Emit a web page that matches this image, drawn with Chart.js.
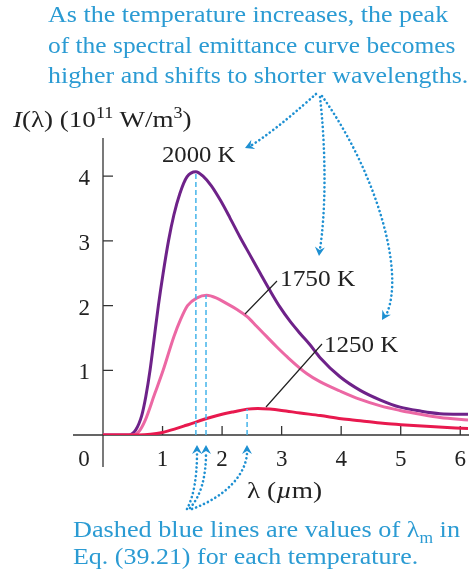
<!DOCTYPE html>
<html>
<head>
<meta charset="utf-8">
<script src="https://cdn.jsdelivr.net/npm/chart.js@4"></script>
<style>
  body { margin: 0; background: #fff; }
  #wrap { position: relative; width: 470px; height: 578px; overflow: hidden; font-family: "Liberation Serif", serif; }
  #wrap canvas { position: absolute; left: 0; top: 0; }
  .t { position: absolute; white-space: nowrap; line-height: 1; font-size: 24px; transform-origin: 0 0; }
  .blue { color: #2b9bd3; }
  .blk { color: #222; }
  sup, sub { font-size: 16px; line-height: 0; }
</style>
</head>
<body>
<div id="wrap">
  <canvas id="c" width="470" height="578"></canvas>
  <!-- data-x: left, data-b: baseline, data-w: width in the reference -->
  <div class="t blue" data-x="48" data-b="21.7" data-w="400">As the temperature increases, the peak</div>
  <div class="t blue" data-x="48" data-b="53" data-w="407">of the spectral emittance curve becomes</div>
  <div class="t blue" data-x="48" data-b="83.3" data-w="420">higher and shifts to shorter wavelengths.</div>
  <div class="t blk" data-x="13" data-b="126.7" data-w="179"><i>I</i>(λ) (10<sup>11</sup> W/m<sup>3</sup>)</div>
  <div class="t blk" data-x="161.5" data-b="161.7" data-w="73">2000 K</div>
  <div class="t blk" data-x="279.5" data-b="286" data-w="75">1750 K</div>
  <div class="t blk" data-x="324" data-b="351.7" data-w="74">1250 K</div>
  <div class="t blk" data-x="247" data-b="498.3" data-w="75">λ (<i>µ</i>m)</div>
  <div class="t blue" data-x="73" data-b="537" data-w="387">Dashed blue lines are values of λ<sub>m</sub> in</div>
  <div class="t blue" data-x="73" data-b="564" data-w="345">Eq. (39.21) for each temperature.</div>
</div>
<script>
// values: wavelength in µm, intensity in 10^11 W/m^3
const lambda2000 = [0, 0.43, 0.55, 0.65, 0.72, 0.79, 0.86, 0.93, 1.01, 1.10, 1.19, 1.29, 1.41, 1.56, 1.68, 1.82, 1.97, 2.13, 2.30, 2.47, 2.64, 2.80, 2.97, 3.14, 3.31, 3.48, 3.65, 3.98, 4.32, 4.66, 4.99, 5.33, 5.66, 6.13];
const I2000 = [0, 0, 0.08, 0.3, 0.6, 1.0, 1.5, 2.0, 2.5, 3.0, 3.4, 3.73, 3.99, 4.07, 4.0, 3.85, 3.63, 3.36, 3.06, 2.78, 2.50, 2.24, 1.98, 1.76, 1.57, 1.39, 1.19, 0.90, 0.69, 0.54, 0.43, 0.37, 0.33, 0.32];

const lambda1750 = [0, 0.5, 0.6, 0.71, 0.87, 1.01, 1.19, 1.30, 1.42, 1.58, 1.74, 1.90, 2.08, 2.25, 2.42, 2.58, 2.75, 2.92, 3.09, 3.42, 3.65, 3.98, 4.32, 4.66, 4.99, 5.33, 5.66, 6.13];
const I1750 = [0, 0, 0.05, 0.23, 0.64, 1.0, 1.52, 1.78, 2.0, 2.12, 2.16, 2.12, 2.03, 1.94, 1.83, 1.68, 1.52, 1.36, 1.21, 0.95, 0.82, 0.68, 0.55, 0.45, 0.38, 0.32, 0.27, 0.23];

const lambda1250 = [0, 0.6, 0.8, 1.0, 1.2, 1.4, 1.56, 1.8, 2.0, 2.2, 2.42, 2.6, 2.8, 3.0, 3.31, 3.65, 4.0, 4.32, 4.7, 5.0, 5.5, 6.13];
const I1250 = [0, 0, 0.01, 0.04, 0.09, 0.15, 0.2, 0.27, 0.32, 0.36, 0.40, 0.41, 0.40, 0.38, 0.34, 0.30, 0.25, 0.22, 0.18, 0.16, 0.13, 0.10];

// peak wavelengths (dashed blue lines) and peak heights, 2000 K, 1750 K, 1250 K
const peakLambda = [1.56, 1.73, 2.42];
const peakI = [4.07, 2.16, 0.40];

const xTicks = [1, 2, 3, 4, 5, 6];
const yTicks = [1, 2, 3, 4];

// put the html labels on their baselines and stretch to the widths seen in the figure
document.querySelectorAll('.t').forEach(el => {
  const fs = 24;
  el.style.left = el.dataset.x + 'px';
  el.style.top = (+el.dataset.b - 0.8375 * fs) + 'px';
  const w = el.offsetWidth;
  el.style.transform = 'scaleX(' + (+el.dataset.w / w) + ')';
});

function pts(xs, ys) {
  return xs.map((x, i) => ({ x: x, y: ys[i] }));
}

const dashedSets = peakLambda.map((x, i) => ({
  data: [{ x: x, y: 0 }, { x: x, y: peakI[i] }],
  borderColor: '#45b4ea',
  borderWidth: 1.5,
  borderDash: [5, 3],
  pointRadius: 0,
  tension: 0
}));

function curve(data, color) {
  return {
    data: data,
    borderColor: color,
    borderWidth: 3,
    pointRadius: 0,
    cubicInterpolationMode: 'monotone'
  };
}

function dotted(ctx, draw) {
  ctx.save();
  ctx.strokeStyle = '#1e90d2';
  ctx.lineWidth = 2.6;
  ctx.lineCap = 'round';
  ctx.setLineDash([0.1, 4.2]);
  ctx.beginPath();
  draw();
  ctx.stroke();
  ctx.restore();
}

function head(ctx, x, y, ang) {
  ctx.save();
  ctx.translate(x, y);
  ctx.rotate(ang);
  ctx.fillStyle = '#1e90d2';
  ctx.beginPath();
  ctx.moveTo(0, 0);
  ctx.lineTo(-9, -5);
  ctx.lineTo(-6, 0);
  ctx.lineTo(-9, 5);
  ctx.closePath();
  ctx.fill();
  ctx.restore();
}

const axesPlugin = {
  id: 'axes',
  beforeDatasetsDraw(chart) {
    const { ctx, scales: { x, y } } = chart;
    const x0 = x.getPixelForValue(0), y0 = y.getPixelForValue(0);
    ctx.save();
    ctx.strokeStyle = '#333';
    ctx.lineWidth = 1.3;
    ctx.beginPath();
    ctx.moveTo(73, y0); ctx.lineTo(469, y0);
    ctx.moveTo(x0, 138); ctx.lineTo(x0, 467);
    xTicks.forEach(v => {
      const px = x.getPixelForValue(v);
      ctx.moveTo(px, y0); ctx.lineTo(px, y0 - 9);
    });
    yTicks.forEach(v => {
      const py = y.getPixelForValue(v);
      ctx.moveTo(x0, py); ctx.lineTo(x0 + 10, py);
    });
    ctx.stroke();
    ctx.fillStyle = '#222';
    ctx.font = '23px "Liberation Serif"';
    ctx.textAlign = 'center';
    ctx.textBaseline = 'alphabetic';
    ctx.fillText('0', 84, y0 + 31);
    xTicks.forEach(v => ctx.fillText(String(v), x.getPixelForValue(v), y0 + 31));
    ctx.textAlign = 'right';
    yTicks.forEach(v => ctx.fillText(String(v), 90, y.getPixelForValue(v) + 9));
    ctx.restore();
  },
  afterDraw(chart) {
    const ctx = chart.ctx;
    // leader lines to the curve labels
    ctx.save();
    ctx.strokeStyle = '#222';
    ctx.lineWidth = 1.2;
    ctx.beginPath();
    ctx.moveTo(245, 314); ctx.lineTo(277, 281);
    ctx.moveTo(266, 407); ctx.lineTo(322, 344);
    ctx.stroke();
    ctx.restore();
    // dotted arrows from the top note
    dotted(ctx, () => {
      ctx.moveTo(316, 94);
      ctx.bezierCurveTo(300, 108, 278, 128, 252, 145);
    });
    head(ctx, 245, 148, Math.atan2(6, -14));
    dotted(ctx, () => {
      ctx.moveTo(320, 97);
      ctx.bezierCurveTo(326, 150, 326, 210, 320, 249);
    });
    head(ctx, 319, 256, Math.atan2(1, -0.1));
    dotted(ctx, () => {
      ctx.moveTo(322, 96);
      ctx.bezierCurveTo(375, 170, 405, 270, 387, 313);
    });
    head(ctx, 382, 320, Math.atan2(1, -0.6));
    // dotted arrows from the bottom note
    dotted(ctx, () => {
      ctx.moveTo(187, 509);
      ctx.quadraticCurveTo(197, 490, 197, 453);
    });
    head(ctx, 197, 445, -Math.PI / 2);
    dotted(ctx, () => {
      ctx.moveTo(190, 508);
      ctx.quadraticCurveTo(206, 490, 206, 453);
    });
    head(ctx, 206, 445, -Math.PI / 2);
    dotted(ctx, () => {
      ctx.moveTo(192, 509);
      ctx.bezierCurveTo(225, 497, 246, 475, 247, 453);
    });
    head(ctx, 247, 445, -Math.PI / 2);
  }
};

new Chart(document.getElementById('c'), {
  type: 'line',
  data: {
    datasets: [
      ...dashedSets,
      curve(pts(lambda1250, I1250), '#e8194e'),
      curve(pts(lambda1750, I1750), '#ec68a4'),
      curve(pts(lambda2000, I2000), '#6e2289')
    ]
  },
  options: {
    responsive: false,
    devicePixelRatio: 1,
    animation: false,
    layout: { padding: { left: 103, right: 2, top: 138, bottom: 143 } },
    plugins: { legend: { display: false }, tooltip: { enabled: false } },
    scales: {
      x: { type: 'linear', min: 0, max: 6.13, display: false },
      y: { min: 0, max: 4.59, display: false }
    }
  },
  plugins: [axesPlugin]
});
</script>
</body>
</html>
